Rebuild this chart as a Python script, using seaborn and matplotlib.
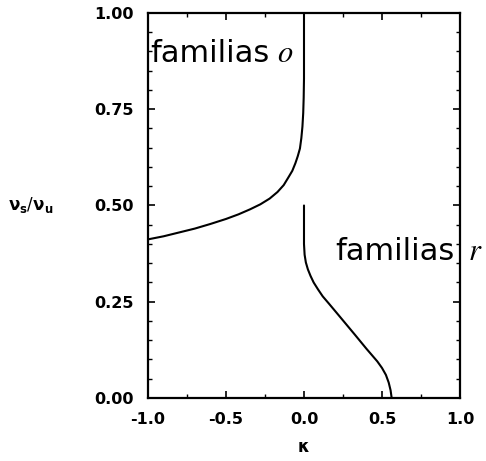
import matplotlib
matplotlib.use("Agg")
import matplotlib.pyplot as plt
from matplotlib.ticker import MultipleLocator
import pandas as pd
import seaborn as sns

# Branch "o": rises from kappa=-1 and turns vertical at kappa=0
o_kappa = [-1.0, -0.9, -0.8, -0.7, -0.6, -0.5, -0.42, -0.346, -0.28, -0.22, -0.17,
           -0.13, -0.10, -0.075, -0.055, -0.04, -0.026, -0.017, -0.010, -0.005,
           -0.002, 0.0, 0.0]
o_ratio = [0.412, 0.420, 0.430, 0.440, 0.452, 0.465, 0.477, 0.490, 0.503, 0.518, 0.535,
           0.553, 0.573, 0.590, 0.610, 0.628, 0.648, 0.675, 0.705, 0.740,
           0.780, 0.830, 1.0]

# Branch "r": drops from kappa=0 at 0.5 down to the axis near kappa=0.56
r_kappa = [0.0, 0.0, 0.004, 0.012, 0.025, 0.042, 0.062, 0.09, 0.12, 0.16, 0.22, 0.327,
           0.40, 0.434, 0.47, 0.50, 0.525, 0.543, 0.555, 0.562]
r_ratio = [0.50, 0.40, 0.372, 0.352, 0.334, 0.317, 0.300, 0.282, 0.264, 0.245, 0.216, 0.164,
           0.128, 0.112, 0.095, 0.078, 0.060, 0.040, 0.020, 0.0]

x_ticks = [-1.0, -0.5, 0.0, 0.5, 1.0]
x_tick_labels = ["-1.0", "-0.5", "0.0", "0.5", "1.0"]
y_ticks = [0.0, 0.25, 0.5, 0.75, 1.0]
y_tick_labels = ["0.00", "0.25", "0.50", "0.75", "1.00"]

sns.set_style("ticks")
plt.rcParams.update({
    "font.family": ["DejaVu Sans"],
    "text.color": "black",
    "axes.labelcolor": "black",
    "xtick.color": "black",
    "ytick.color": "black",
    "axes.unicode_minus": False,
    "xtick.direction": "in",
    "ytick.direction": "in",
    "xtick.top": True,
    "ytick.right": True,
    "xtick.major.size": 5,
    "ytick.major.size": 5,
    "xtick.minor.size": 3,
    "ytick.minor.size": 3,
    "xtick.major.width": 1.2,
    "ytick.major.width": 1.2,
    "xtick.minor.width": 1.0,
    "ytick.minor.width": 1.0,
    "axes.linewidth": 1.6,
    "axes.edgecolor": "black",
})

fig = plt.figure(figsize=(4.86, 4.61), dpi=100)
ax = fig.add_axes([0.3045, 0.1367, 0.642, 0.8351])

df_o = pd.DataFrame({"kappa": o_kappa, "ratio": o_ratio})
df_r = pd.DataFrame({"kappa": r_kappa, "ratio": r_ratio})
sns.lineplot(data=df_o, x="kappa", y="ratio", sort=False, estimator=None,
             color="black", linewidth=1.5, ax=ax)
sns.lineplot(data=df_r, x="kappa", y="ratio", sort=False, estimator=None,
             color="black", linewidth=1.5, ax=ax)

ax.set_xlim(-1.0, 1.0)
ax.set_ylim(0.0, 1.0)
ax.set_xticks(x_ticks, labels=x_tick_labels)
ax.set_yticks(y_ticks, labels=y_tick_labels)
ax.xaxis.set_minor_locator(MultipleLocator(0.25))
ax.yaxis.set_minor_locator(MultipleLocator(0.05))
ax.tick_params(axis="both", which="major", labelsize=11.5, pad=10)
for lab in ax.get_xticklabels() + ax.get_yticklabels():
    lab.set_fontweight("bold")

ax.set_xlabel("κ", fontsize=12, fontweight="bold", labelpad=8)
ax.set_ylabel(r"$\mathbf{\nu}_\mathbf{s}/\mathbf{\nu}_\mathbf{u}$", rotation=0,
              fontsize=12, ha="left", va="center", math_fontfamily="dejavusans")
ax.yaxis.set_label_coords(-0.449, 0.50)

# Family annotations
ax.text(0.006, 0.873, "familias", fontsize=22, va="baseline", ha="left",
        color="black", transform=ax.transAxes)
ax.text(0.413, 0.873, "$o$", fontsize=22, va="baseline", ha="left",
        color="black", transform=ax.transAxes, math_fontfamily="stix")
ax.text(0.599, 0.358, "familias", fontsize=22, va="baseline", ha="left",
        color="black", transform=ax.transAxes)
ax.text(1.026, 0.358, "$r$", fontsize=22, va="baseline", ha="left",
        color="black", transform=ax.transAxes, math_fontfamily="stix")

fig.savefig("out.png", dpi=100, facecolor="white")
